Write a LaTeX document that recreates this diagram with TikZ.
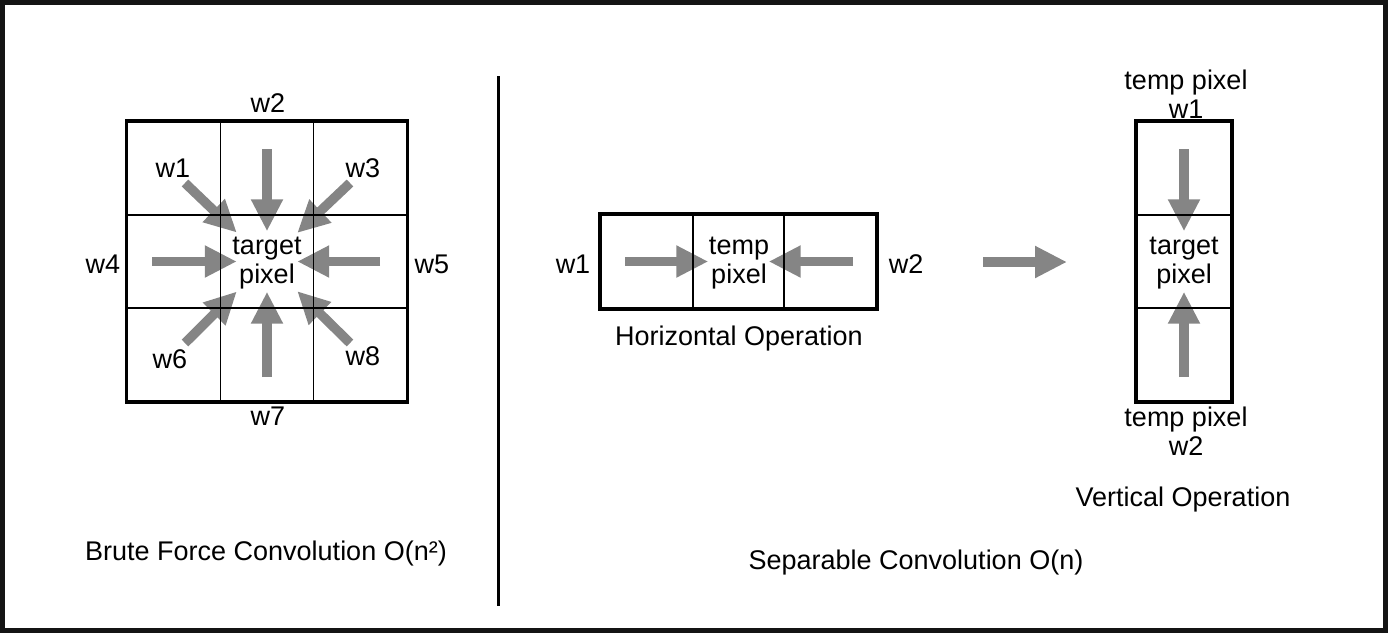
\documentclass[tikz,border=0pt]{standalone}
\usepackage{fontspec}
\setmainfont{Liberation Sans}
\usetikzlibrary{arrows.meta,positioning}
\definecolor{arrowgray}{gray}{0.52}
\definecolor{framegray}{gray}{0.08}

\tikzset{cell/.style = {draw, line width=1.7pt, minimum width=#1, minimum height=93pt, inner sep=0pt},
         cell/.default=93pt,
         hub/.style = {minimum size=60pt, inner sep=0pt},
         fat/.style = {draw=arrowgray, line width=9.5pt, -{Triangle[length=32pt,width=30pt]}},
         lbl/.style = {font=\fontsize{27}{29}\selectfont, align=center, inner sep=0pt},
         outline/.style = {draw, line width=3.6pt}
        }

\begin{document}
\begin{tikzpicture}[x=1pt, y=-1pt]
  \useasboundingbox (0,0) rectangle (1388,633);
  \draw[framegray, line width=5pt] (2.5,2.5) rectangle (1385.5,630.5);

  \node[hub] (tgt) at (267,261.5) {};
  \node[hub] (tmp) at (738.5,261.5) {};
  \node[hub] (vtgt) at (1184,261.5) {};

  \coordinate (t1) at (185,183);
  \coordinate (t2) at (267,149);
  \coordinate (t3) at (350,183);
  \coordinate (t4) at (152,261.5);
  \coordinate (t5) at (380,261.5);
  \coordinate (t6) at (185,343);
  \coordinate (t7) at (267,377);
  \coordinate (t8) at (350,343);
  \foreach \t in {t1,t2,t3,t4,t5,t6,t7,t8}
    \draw[fat] (\t) -- (tgt);

  \coordinate (h1) at (625,261.5);
  \coordinate (h2) at (853,261.5);
  \draw[fat] (h1) -- (tmp);
  \draw[fat] (h2) -- (tmp);

  \coordinate (v1) at (1184,149);
  \coordinate (v2) at (1184,377);
  \draw[fat] (v1) -- (vtgt);
  \draw[fat] (v2) -- (vtgt);

  \coordinate (m1) at (983,262);
  \coordinate (m2) at (1067,262);
  \draw[fat] (m1) -- (m2);

  \foreach \r/\y in {a/168.5, b/261.5, c/354.5}
    \foreach \c/\x in {1/174, 2/267, 3/360}
      \node[cell] (g\r\c) at (\x,\y) {};
  \draw[outline] (ga1.north west) rectangle (gc3.south east);

  \foreach \c/\x in {1/647, 2/738.5, 3/830}
    \node[cell=92pt] (h\c) at (\x,261.5) {};
  \draw[outline] (h1.north west) rectangle (h3.south east);

  \foreach \r/\y in {a/168.5, b/261.5, c/354.5}
    \node[cell=94pt] (v\r) at (1184,\y) {};
  \draw[outline] (va.north west) rectangle (vc.south east);

  \draw[line width=3pt] (498,76) coordinate (d1) -- (498,606) coordinate (d2);

  \node[lbl] (w1) at (173,168) {w1};
  \node[lbl] (w2) at (268,103) {w2};
  \node[lbl] (w3) at (363,168) {w3};
  \node[lbl] (w4) at (103,264) {w4};
  \node[lbl] (w5) at (432,264) {w5};
  \node[lbl] (w6) at (170,359) {w6};
  \node[lbl] (w7) at (268,416) {w7};
  \node[lbl] (w8) at (363,356) {w8};
  \node[lbl] (tgttxt) at (267,263) {target\\pixel};
  \node[lbl] (brute) at (266,553) {Brute Force Convolution O(n²)};

  \node[lbl] (hw1) at (573,264) {w1};
  \node[lbl] (hw2) at (906,264) {w2};
  \node[lbl] (tmptxt) at (739,263) {temp\\pixel};
  \node[lbl] (hop) at (739,339) {Horizontal Operation};

  \node[lbl] (vw1) at (1186,94) {temp pixel\\w1};
  \node[lbl] (vtxt) at (1184,263) {target\\pixel};
  \node[lbl] (vw2) at (1186,431) {temp pixel\\w2};
  \node[lbl] (vop) at (1183,500) {Vertical Operation};
  \node[lbl] (sep) at (916,563) {Separable Convolution O(n)};
\end{tikzpicture}
\end{document}
